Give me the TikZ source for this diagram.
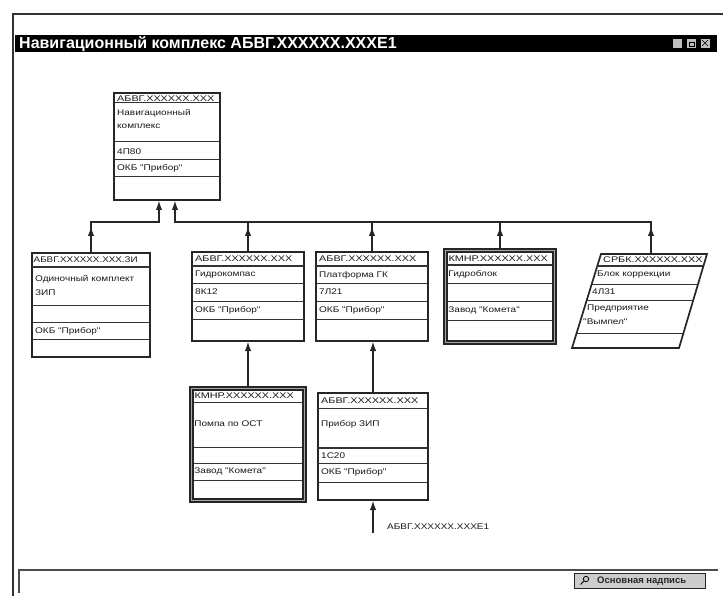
\documentclass[tikz,border=0pt]{standalone}
\usepackage{graphicx}
\usepackage{fontspec}
\newfontfamily\lsans{Liberation Sans}
\usetikzlibrary{arrows.meta,calc}
\newcounter{tn}
\newcommand\sx[1]{\scalebox{1.22}[1]{#1}}
\newcommand\hx[1]{\scalebox{1.32}[1]{#1}}
\newcommand\mkbox[6][]{\node[box,#1,minimum width={(#5)-(#3)},minimum height={(#6)-(#4)}] (#2) at ({((#3)+(#5))/2},{((#4)+(#6))/2}) {};}
\newcommand\brow[3][0]{\draw[sep] ($(#2.west |- 0,#3)+(#1,0)$) -- ($(#2.east |- 0,#3)-(#1,0)$);}
\newcommand\btx[3]{\stepcounter{tn}\node[txt] (t\thetn) at ($(#1.west |- 0,#2)+(3,0)$) {\sx{#3}};}
\newcommand\bhx[3]{\stepcounter{tn}\node[txt] (t\thetn) at ($(#1.west |- 0,#2)+(3,0)$) {\hx{#3}};}
\begin{document}
\begin{tikzpicture}[x=1pt,y=-1pt,
  box/.style={draw=black!85,line width=1.7pt,fill=white,inner sep=0,outer sep=0},
  sep/.style={draw=black!80,line width=1pt},
  txt/.style={anchor=west,inner sep=0,font=\lsans\fontsize{8.2}{10}\selectfont,text=black!90},
  conn/.style={draw=black!85,line width=2pt},
  arr/.style={conn,-{Latex[length=10pt,width=6.5pt]}},
  dframe/.style={box,fill=black!35,line width=1.2pt},
]
\useasboundingbox (0,0) rectangle (723,596);
\fill[white] (0,0) rectangle (723,596);
% window frame
\draw[line width=1.4pt,black!80] (13,596) -- (13,14) -- (723,14);
\node[fill=black,minimum width=702pt,minimum height=17pt,inner sep=0] (bar) at (366,43.5) {};
\node[anchor=west,inner sep=0,text=white,font=\lsans\bfseries\fontsize{16}{17}\selectfont] (title) at (19,44) {Навигационный комплекс АБВГ.XXXXXX.XXXE1};
\node[draw=black,fill=black!25,minimum size=10pt,inner sep=0] (b1) at (677,43) {};
\node[draw=black,fill=black!25,minimum size=10pt,inner sep=0] (b2) at (691,43) {};
\node[draw=black,fill=black!25,minimum size=10pt,inner sep=0] (b3) at (705,43) {};
\draw[black,line width=0.6pt] ($(b2.center)+(-2,-1)$) rectangle ($(b2.center)+(3,3)$);
\draw[black,line width=0.6pt] ($(b3.center)+(-3,-3)$) -- ($(b3.center)+(3,3)$) ($(b3.center)+(-3,3)$) -- ($(b3.center)+(3,-3)$);
% status panel
\draw[line width=1.8pt,black!70] (19,593) -- (19,570) -- (718,570);
\node[draw=black!85,fill=black!20,line width=1pt,minimum width=131pt,minimum height=15pt,inner sep=0] (btn) at (640,581) {};
\node[anchor=west,inner sep=0,font=\lsans\bfseries\fontsize{9.5}{10}\selectfont,text=black!85] (btntxt) at (597,581.5) {Основная надпись};
\draw[line width=0.8pt] (586,579) circle (2.7pt) (584,581) -- (580.5,584.5);
% boxes
\mkbox{T}{114}{93}{220}{200}
\brow{T}{103}\brow{T}{142}\brow{T}{160}\brow{T}{177}
\bhx{T}{98.5}{АБВГ.XXXXXX.XXX}
\btx{T}{113}{Навигационный}
\btx{T}{126}{комплекс}
\btx{T}{151.5}{4П80}
\btx{T}{168.5}{ОКБ "Прибор"}

\mkbox{Z}{32}{253}{150}{357}
\draw[sep,line width=1.6pt] (Z.west |- 0,267) -- (Z.east |- 0,267);
\brow{Z}{305}\brow{Z}{322}\brow{Z}{339}
\node[txt] (zh) at ($(Z.west |- 0,260)+(1.5,0)$) {\scalebox{1.2}[1]{АБВГ.XXXXXX.XXX.ЗИ}};
\btx{Z}{279}{Одиночный комплект}
\btx{Z}{293}{ЗИП}
\btx{Z}{331}{ОКБ "Прибор"}

\mkbox{G}{192}{252}{304}{341}
\brow{G}{266}\brow{G}{283}\brow{G}{301}\brow{G}{319}
\bhx{G}{259}{АБВГ.XXXXXX.XXX}
\btx{G}{275}{Гидрокомпас}
\btx{G}{292}{8К12}
\btx{G}{310}{ОКБ "Прибор"}

\mkbox{P}{316}{252}{428}{341}
\brow{P}{266}\brow{P}{283}\brow{P}{301}\brow{P}{319}
\bhx{P}{259}{АБВГ.XXXXXX.XXX}
\btx{P}{275}{Платформа ГК}
\btx{P}{292}{7Л21}
\btx{P}{310}{ОКБ "Прибор"}

\mkbox[dframe]{H}{444}{249}{556}{344}
\draw[box] ($(H.north west)+(3,3)$) rectangle ($(H.south east)-(3,3)$);
\brow[3]{H}{265}\brow[3]{H}{283}\brow[3]{H}{301}\brow[3]{H}{320}
\bhx{H}{258.5}{\hspace{1pt}КМНР.XXXXXX.XXX}
\btx{H}{274}{\hspace{1pt}Гидроблок}
\btx{H}{310.5}{\hspace{1pt}Завод "Комета"}

\mkbox[dframe]{M}{190}{387}{306}{502}
\draw[box] ($(M.north west)+(3,3)$) rectangle ($(M.south east)-(3,3)$);
\brow[3]{M}{402}\brow[3]{M}{447}\brow[3]{M}{463}\brow[3]{M}{480}
\bhx{M}{395.5}{\hspace{1pt}КМНР.XXXXXX.XXX}
\btx{M}{424}{\hspace{1pt}Помпа по ОСТ}
\btx{M}{471.5}{\hspace{1pt}Завод "Комета"}

\mkbox{Q}{318}{393}{428}{500}
\brow{Q}{408}\draw[sep,line width=1.5pt] (Q.west |- 0,448) -- (Q.east |- 0,448);\brow{Q}{463}\brow{Q}{482}
\bhx{Q}{400.5}{АБВГ.XXXXXX.XXX}
\btx{Q}{424}{Прибор ЗИП}
\btx{Q}{455.5}{1С20}
\btx{Q}{472.5}{ОКБ "Прибор"}

% parallelogram
\draw[box] (601,254) -- (707,254) -- (679,348) -- (572,348) -- cycle;
\draw[sep] (597.3,266) -- (703.3,266);
\draw[sep] (591.7,284) -- (697.7,284);
\draw[sep] (586.8,300) -- (692.8,300);
\draw[sep] (576.6,333) -- (682.6,333);
\node[txt] (s1) at (603,260) {\hx{СРБК.XXXXXX.XXX}};
\node[txt] (s2) at (597,275) {\sx{Блок коррекции}};
\node[txt] (s3) at (592,292) {\sx{4Л31}};
\node[txt] (s4) at (587,309) {\sx{Предприятие}};
\node[txt] (s5) at (583,322) {\sx{"Вымпел"}};
\coordinate (S) at (651,254);

% connectors
\coordinate (bus) at (0,222);
\draw[arr] (Z.north) |- ([xshift=-8pt]T.south |- bus) -- ([xshift=-8pt]T.south);
\draw[arr] (S) |- ([xshift=8pt]T.south |- bus) -- ([xshift=8pt]T.south);
\draw[arr] (Z.north) -- ($(Z.north |- bus)+(0,4)$);
\foreach \n in {G,P,H}{
  \draw[conn] (\n.north) -- (\n.north |- bus);
  \draw[arr] (\n.north) -- ($(\n.north |- bus)+(0,4)$);
}
\draw[arr] (S) -- ($(S |- bus)+(0,4)$);
\draw[arr] (M.north) -- (M.north |- G.south);
\draw[arr] (Q.north) -- (Q.north |- P.south);
\coordinate (E1) at (373,533);
\draw[arr] (E1) -- (E1 |- Q.south);
\node[txt] (E1lbl) at (387,527) {\sx{АБВГ.XXXXXX.XXXE1}};
\end{tikzpicture}
\end{document}
